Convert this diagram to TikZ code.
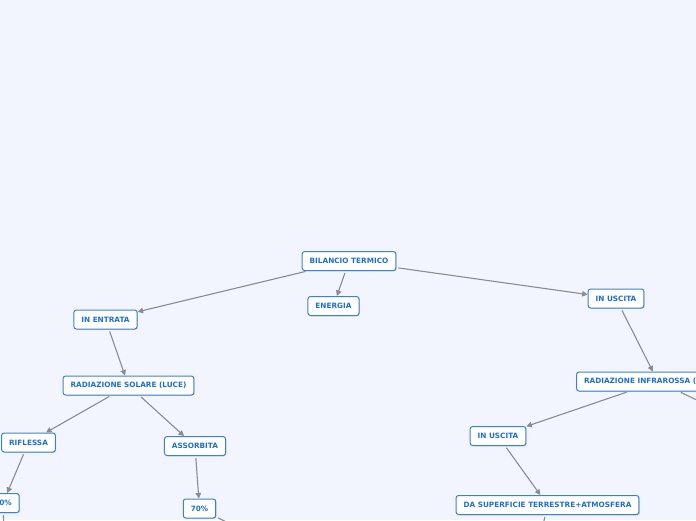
\documentclass[tikz,border=0pt]{standalone}
\usepackage{fontspec}
\setmainfont{DejaVu Sans}
\usetikzlibrary{arrows.meta,positioning,shadows}
\definecolor{bgblue}{HTML}{F2F5FE}
\definecolor{nodeblue}{HTML}{3B82D6}
\definecolor{textblue}{HTML}{1D6FD3}
\definecolor{linkgray}{HTML}{8A8C91}

\begin{document}
\begin{tikzpicture}[
    x=1pt, y=-1pt,
    topic/.style={
      draw=nodeblue, line width=1pt, fill=white, rounded corners=2.5pt,
      text=textblue, font=\fontsize{7.3}{8}\selectfont\bfseries,
      inner xsep=7.5pt, minimum height=19pt,
      drop shadow={shadow xshift=0.8pt, shadow yshift=-0.8pt, opacity=0.3}
    },
    link/.style={-{Triangle[length=5.5pt,width=5.5pt]},line width=1.1pt,draw=linkgray,shorten <=2pt}
  ]
    \useasboundingbox (0,0) rectangle (696,520);
    \fill[bgblue] (0,0) rectangle (696,520);
    \clip (0,0) rectangle (696,520);

    \node[topic] (bilancio) at (349,261) {BILANCIO TERMICO};
    \node[topic] (energia) at (333.5,306) {ENERGIA};
    \node[topic] (entrata) at (105.5,319.5) {IN ENTRATA};
    \node[topic] (uscita) at (616,298.5) {IN USCITA};
    \node[topic] (solare) at (128.5,385.5) {RADIAZIONE SOLARE (LUCE)};
    \node[topic] (riflessa) at (28.5,442.5) {RIFLESSA};
    \node[topic] (assorbita) at (195,446) {ASSORBITA};
    \node[topic] (trenta) at (3,503) {30\%};
    \node[topic] (settanta) at (199.5,508.5) {70\%};
    \node[topic,anchor=west] (infrarossa) at (576,381.5) {RADIAZIONE INFRAROSSA (CALORE)};
    \node[topic] (uscitab) at (498,436) {IN USCITA};
    \node[topic] (superficie) at (547.5,505) {DA SUPERFICIE TERRESTRE+ATMOSFERA};

    % rami che escono dal disegno
    \coordinate (trentaout) at (5,560);
    \coordinate (settantaout) at (262,540);
    \coordinate (infraout) at (760,430);
    \coordinate (superout) at (533,570);

    \draw[link] (bilancio) -- (entrata);
    \draw[link] (bilancio) -- (energia);
    \draw[link] (bilancio) -- (uscita);
    \draw[link] (entrata) -- (solare);
    \draw[link] (solare) -- (riflessa);
    \draw[link] (solare) -- (assorbita);
    \draw[link] (riflessa) -- (trenta);
    \draw[link] (assorbita) -- (settanta);
    \draw[link] (uscita) -- (infrarossa);
    \draw[link] (infrarossa) -- (uscitab);
    \draw[link] (uscitab) -- (superficie);
    \draw[link] (trenta) -- (trentaout);
    \draw[link] (settanta) -- (settantaout);
    \draw[link] (infrarossa) -- (infraout);
    \draw[link] (superficie) -- (superout);
  \end{tikzpicture}
\end{document}
